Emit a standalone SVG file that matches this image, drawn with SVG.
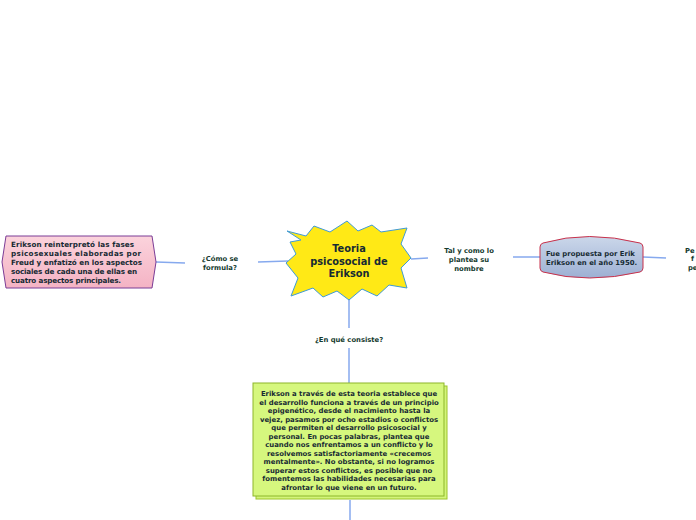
<svg xmlns="http://www.w3.org/2000/svg" width="696" height="520" viewBox="0 0 696 520">
<defs>
<linearGradient id="pinkG" x1="0" y1="0" x2="0" y2="1"><stop offset="0" stop-color="#fbd3dc"/><stop offset="1" stop-color="#f4b3c4"/></linearGradient>
<linearGradient id="blueG" x1="0" y1="0" x2="0" y2="1"><stop offset="0" stop-color="#cbd7ea"/><stop offset="1" stop-color="#9db0d3"/></linearGradient>
<style>
.t{font-family:"DejaVu Sans",Verdana,sans-serif;font-weight:bold;fill:#162a33}
.lbl{font-family:"DejaVu Sans",Verdana,sans-serif;font-weight:bold;font-size:6.8px;fill:#143a2e;text-anchor:middle}
.c{fill:none;stroke:#86a9ee;stroke-width:1.5}
</style>
</defs>
<rect width="696" height="520" fill="#ffffff"/>
<g id="connectors">
<line class="c" x1="156" y1="262" x2="185" y2="263"/>
<line class="c" x1="258" y1="262" x2="288" y2="261"/>
<line class="c" x1="411" y1="259" x2="428" y2="258"/>
<line class="c" x1="513" y1="257" x2="541" y2="257"/>
<line class="c" x1="643" y1="257" x2="666" y2="258"/>
<line class="c" x1="349" y1="299" x2="349" y2="328"/>
<line class="c" x1="349" y1="348" x2="349" y2="383"/>
<line class="c" x1="350" y1="500" x2="350" y2="520"/>
</g>
<g id="central">
<polygon points="287,231 306,236 314,226 330,232 347,221 358,231 372,225 381,232 407,228 401,244 411,258 401,268 407,288 389,285 377,296 362,289 349,300 337,291 323,297 313,288 291,296 298,278 286,263 296,254 290,242 301,240" fill="#ffe916" stroke="#3f9ad6" stroke-width="1"/>
<text class="t" font-size="9.8" text-anchor="middle" x="349" y="252">Teoria</text>
<text class="t" font-size="9.8" text-anchor="middle" x="349" y="265">psicosocial de</text>
<text class="t" font-size="9.8" text-anchor="middle" x="349" y="277">Erikson</text>
</g>
<g id="left-node">
<polygon points="6,236 152,236 156,262 152,288 6,288 2,262" fill="url(#pinkG)" stroke="#7b3c96" stroke-width="1"/>
<text class="t" font-size="7.2" x="11" y="247" textLength="123">Erikson  reinterpretó  las  fases</text>
<text class="t" font-size="7.2" x="11" y="256" textLength="130">psicosexuales elaboradas por</text>
<text class="t" font-size="7.2" x="11" y="265" textLength="131">Freud  y enfatizó  en los aspectos</text>
<text class="t" font-size="7.2" x="11" y="274" textLength="126">sociales de cada una de ellas en</text>
<text class="t" font-size="7.2" x="11" y="283" textLength="110">cuatro aspectos principales.</text>
</g>
<g id="label-como">
<text class="lbl" x="220" y="261">¿Cómo se</text>
<text class="lbl" x="220" y="270">formula?</text>
</g>
<g id="label-tal">
<text class="lbl" x="469" y="253">Tal y como lo</text>
<text class="lbl" x="469" y="262">plantea su</text>
<text class="lbl" x="469" y="271">nombre</text>
</g>
<g id="fue-node">
<path d="M543,243 Q588,230 640,243 Q643,244 643,247 L643,268 Q643,271 640,272 Q588,284 543,272 Q540,271 540,268 L540,247 Q540,244 543,243 Z" fill="url(#blueG)" stroke="#c8304a" stroke-width="1"/>
<text class="t" font-size="6.9" x="546" y="256">Fue propuesta por Erik</text>
<text class="t" font-size="6.9" x="546" y="265">Erikson en el año 1950.</text>
</g>
<g id="right-label">
<text class="lbl" x="685" y="253" style="text-anchor:start">Pe</text>
<text class="lbl" x="691" y="261" style="text-anchor:start">f</text>
<text class="lbl" x="688" y="270" style="text-anchor:start">pe</text>
</g>
<g id="label-consiste">
<text class="lbl" x="349" y="342">¿En qué consiste?</text>
</g>
<g id="green-node">
<rect x="256" y="386" width="191" height="113" fill="#d3f57a" stroke="#9cc42a" stroke-width="1"/>
<rect x="253" y="383" width="191" height="113" fill="#d6f77e" stroke="#8db62a" stroke-width="1"/>
<g class="t" font-size="6.9" text-anchor="middle">
<text x="349" y="396">Erikson a través de esta teoria establece que</text>
<text x="349" y="404.5">el desarrollo funciona a través de un principio</text>
<text x="349" y="413">epigenético, desde el nacimiento hasta la</text>
<text x="349" y="421.5">vejez, pasamos por ocho estadios o conflictos</text>
<text x="349" y="430">que permiten el desarrollo psicosocial y</text>
<text x="349" y="438.5">personal. En pocas palabras, plantea que</text>
<text x="349" y="447">cuando nos enfrentamos a un conflicto y lo</text>
<text x="349" y="455.5">resolvemos satisfactoriamente «crecemos</text>
<text x="349" y="464">mentalmente». No obstante, si no logramos</text>
<text x="349" y="472.5">superar estos conflictos, es posible que no</text>
<text x="349" y="481">fomentemos las habilidades necesarias para</text>
<text x="349" y="489.5">afrontar lo que viene en un futuro.</text>
</g>
</g>
</svg>
